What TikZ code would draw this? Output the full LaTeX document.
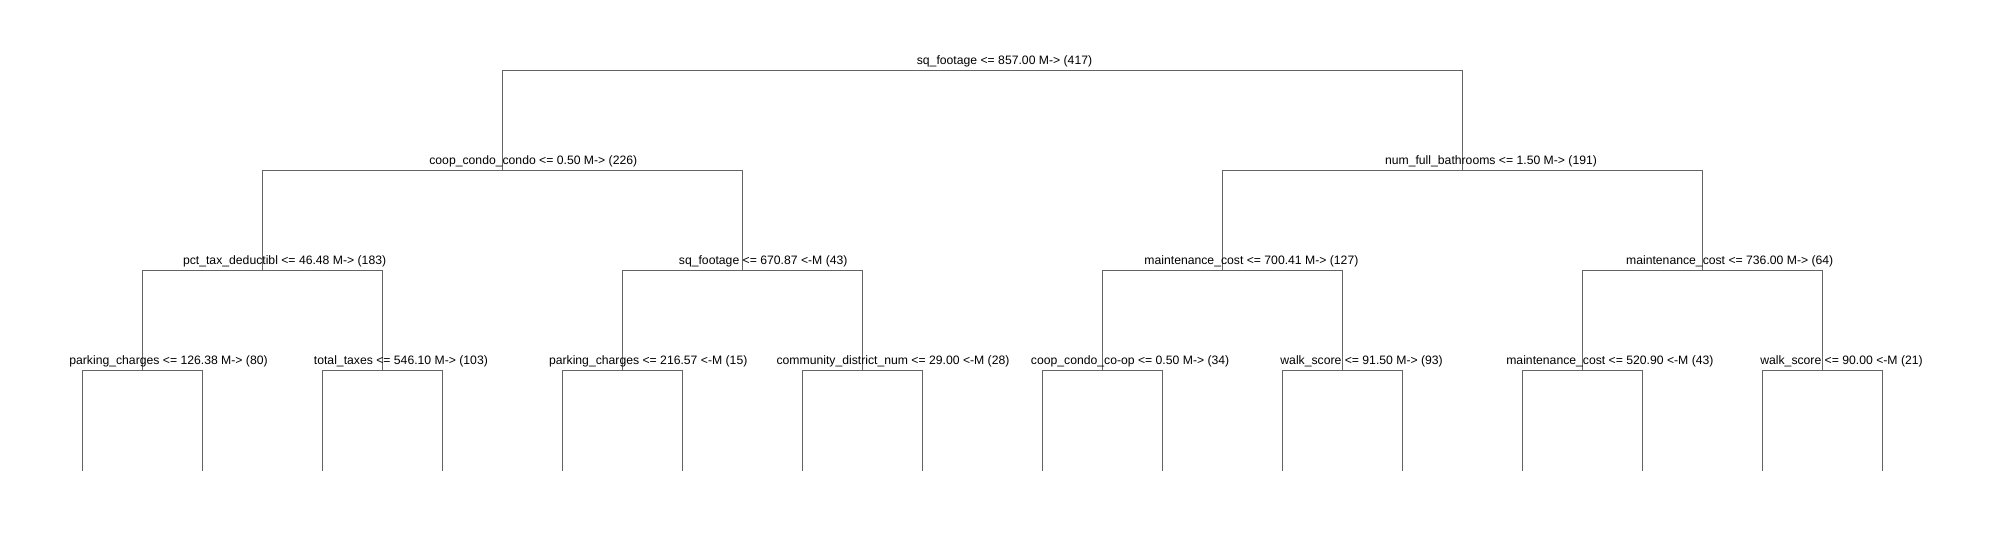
\documentclass[tikz,border=0pt]{standalone}
\usepackage{fontspec}
\setmainfont{Liberation Sans}
\definecolor{linegray}{RGB}{100,100,100}
\begin{document}
\begin{tikzpicture}[x=1pt,y=-1pt,
  edge/.style={draw=linegray,line width=1pt},
  lbl/.style={anchor=base,inner sep=0pt,text=black,font=\fontsize{12.2}{14}\selectfont}]
\useasboundingbox (0,0) rectangle (1991,540);
% tree node positions
\coordinate (n0) at (982.5,70.3);
\coordinate (n1) at (502.5,170.3);
\coordinate (n2) at (1462.5,170.3);
\coordinate (n3) at (262.5,270.3);
\coordinate (n4) at (742.5,270.3);
\coordinate (n5) at (1222.5,270.3);
\coordinate (n6) at (1702.5,270.3);
\coordinate (n7) at (142.5,370.3);
\coordinate (n8) at (382.5,370.3);
\coordinate (n9) at (622.5,370.3);
\coordinate (n10) at (862.5,370.3);
\coordinate (n11) at (1102.5,370.3);
\coordinate (n12) at (1342.5,370.3);
\coordinate (n13) at (1582.5,370.3);
\coordinate (n14) at (1822.5,370.3);
\foreach \k in {0,...,15}{\coordinate (l\k) at (82.5+120*\k,470.5);}
% connectors
\draw[edge] (n0) -| (n1); \draw[edge] (n0) -| (n2);
\draw[edge] (n1) -| (n3); \draw[edge] (n1) -| (n4);
\draw[edge] (n2) -| (n5); \draw[edge] (n2) -| (n6);
\draw[edge] (n3) -| (n7); \draw[edge] (n3) -| (n8);
\draw[edge] (n4) -| (n9); \draw[edge] (n4) -| (n10);
\draw[edge] (n5) -| (n11); \draw[edge] (n5) -| (n12);
\draw[edge] (n6) -| (n13); \draw[edge] (n6) -| (n14);
\draw[edge] (n7) -| (l0); \draw[edge] (n7) -| (l1);
\draw[edge] (n8) -| (l2); \draw[edge] (n8) -| (l3);
\draw[edge] (n9) -| (l4); \draw[edge] (n9) -| (l5);
\draw[edge] (n10) -| (l6); \draw[edge] (n10) -| (l7);
\draw[edge] (n11) -| (l8); \draw[edge] (n11) -| (l9);
\draw[edge] (n12) -| (l10); \draw[edge] (n12) -| (l11);
\draw[edge] (n13) -| (l12); \draw[edge] (n13) -| (l13);
\draw[edge] (n14) -| (l14); \draw[edge] (n14) -| (l15);
% labels
\node[lbl] (t0) at (1004.5,64.3) {sq\_footage <= 857.00 M-> (417)};
\node[lbl] (t1) at (533.3,164.3) {coop\_condo\_condo <= 0.50 M-> (226)};
\node[lbl] (t2) at (1491,164.3) {num\_full\_bathrooms <= 1.50 M-> (191)};
\node[lbl] (t3) at (284.6,264.3) {pct\_tax\_deductibl <= 46.48 M-> (183)};
\node[lbl] (t4) at (763.2,264.3) {sq\_footage <= 670.87 <-M (43)};
\node[lbl] (t5) at (1251.4,264.3) {maintenance\_cost <= 700.41 M-> (127)};
\node[lbl] (t6) at (1729.7,264.3) {maintenance\_cost <= 736.00 M-> (64)};
\node[lbl] (t7) at (168.5,364.3) {parking\_charges <= 126.38 M-> (80)};
\node[lbl] (t8) at (400.9,364.3) {total\_taxes <= 546.10 M-> (103)};
\node[lbl] (t9) at (648.2,364.3) {parking\_charges <= 216.57 <-M (15)};
\node[lbl] (t10) at (893,364.3) {community\_district\_num <= 29.00 <-M (28)};
\node[lbl] (t11) at (1130.1,364.3) {coop\_condo\_co-op <= 0.50 M-> (34)};
\node[lbl] (t12) at (1361.6,364.3) {walk\_score <= 91.50 M-> (93)};
\node[lbl] (t13) at (1609.9,364.3) {maintenance\_cost <= 520.90 <-M (43)};
\node[lbl] (t14) at (1841.5,364.3) {walk\_score <= 90.00 <-M (21)};
\end{tikzpicture}
\end{document}
